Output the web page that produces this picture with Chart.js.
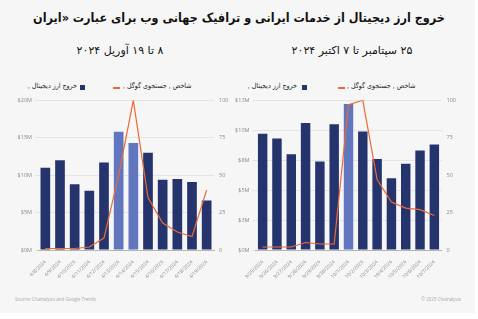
<!DOCTYPE html>
<html>
<head>
<meta charset="utf-8">
<script src="https://cdn.jsdelivr.net/npm/chart.js@4"></script>
<style>
  body { margin: 0; width: 478px; height: 319px; background: #fff; overflow: hidden; font-family: "DejaVu Sans", sans-serif; }
  #frame { position: absolute; left: 0; top: 0; width: 475px; height: 313px; background: #f6f6f6; }
  .t { position: absolute; white-space: nowrap; direction: rtl; color: #111; }
  .lg { font-size: 7px; font-family: "DejaVu Sans Condensed", "DejaVu Sans", sans-serif; top: 82px; color: #222; }
  .box { position: absolute; width: 5px; height: 5px; background: #26346e; }
  .ln { position: absolute; width: 7px; height: 2px; background: #ee6a32; }
  .wrap { position: absolute; }
  .foot { position: absolute; font-family: "Open Sans", sans-serif; font-size: 4.5px; color: #a8a8a8; white-space: nowrap; }
</style>
</head>
<body>
<div id="frame"></div>
<div class="t" style="left:0;width:478px;top:10px;text-align:center;font-size:12.5px;font-weight:bold;font-family:'DejaVu Sans Condensed','DejaVu Sans',sans-serif;">خروج ارز دیجیتال از خدمات ایرانی و ترافیک جهانی وب برای عبارت «ایران</div>
<div class="t" style="left:20px;width:200px;top:44px;text-align:center;font-size:11px;">۸ تا ۱۹ آوریل ۲۰۲۴</div>
<div class="t" style="left:252px;width:200px;top:44px;text-align:center;font-size:11px;">۲۵ سپتامبر تا ۷ اکتبر ۲۰۲۴</div>

<div class="t lg" style="right:401px;">خروج ارز دیجیتال ,</div>
<div class="box" style="left:80px;top:85px;"></div>
<div class="ln" style="left:113px;top:87px;"></div>
<div class="t lg" style="left:123px;direction:ltr;"><span dir="rtl">شاخص , جستجوی گوگل ,</span></div>

<div class="t lg" style="right:181px;">خروج ارز دیجیتال ,</div>
<div class="box" style="left:302px;top:85px;"></div>
<div class="ln" style="left:338px;top:87px;"></div>
<div class="t lg" style="left:347px;direction:ltr;"><span dir="rtl">شاخص , جستجوی گوگل ,</span></div>

<div class="wrap" style="left:0;top:92px;"><canvas id="left" width="240" height="198"></canvas></div>
<div class="wrap" style="left:235px;top:92px;"><canvas id="right" width="243" height="198"></canvas></div>

<div class="foot" style="left:15px;top:296px;">Source: Chainalysis and Google Trends</div>
<div class="foot" style="right:17px;top:296px;">© 2025 Chainalysis</div>

<script>
// April 2024 window
const aprilDates = ["4/8/2024", "4/9/2024", "4/10/2024", "4/11/2024", "4/12/2024", "4/13/2024",
  "4/14/2024", "4/15/2024", "4/16/2024", "4/17/2024", "4/18/2024", "4/19/2024"];
const aprilOutflow = [11.0, 12.0, 8.8, 7.9, 11.7, 15.8, 14.3, 13.0, 9.4, 9.5, 9.1, 6.6]; // $M
const aprilSearch = [1, 1, 1, 2, 8, 50, 100, 35, 18, 12, 9, 40];
const aprilHighlight = ["4/13/2024", "4/14/2024"];

// Sep-Oct 2024 window
const octDates = ["9/25/2024", "9/26/2024", "9/27/2024", "9/28/2024", "9/29/2024", "9/30/2024",
  "10/1/2024", "10/2/2024", "10/3/2024", "10/4/2024", "10/5/2024", "10/6/2024", "10/7/2024"];
const octOutflow = [9.7, 9.3, 8.0, 10.6, 7.4, 10.5, 12.2, 9.9, 7.6, 6.0, 7.2, 8.3, 8.8]; // $M
const octSearch = [2, 2, 2, 5, 4, 4, 97, 100, 47, 32, 28, 27, 23];
const octHighlight = ["10/1/2024"];

const NAVY = "#26346e";
const LIGHT = "#6276bf";
const ORANGE = "#ee6a32";
const GRID = "#e4e4e4";
const TICK = "#8a8a8a";

function makeChart(id, labels, outflow, search, highlight, yMax, yStep, leftW, rightW) {
  const colors = labels.map(d => highlight.includes(d) ? LIGHT : NAVY);
  new Chart(document.getElementById(id), {
    data: {
      labels: labels,
      datasets: [
        {
          type: "line",
          label: "search",
          data: search,
          yAxisID: "y1",
          borderColor: ORANGE,
          borderWidth: 1.2,
          pointRadius: 0,
          tension: 0,
          order: 0,
        },
        {
          type: "bar",
          label: "outflow",
          data: outflow,
          yAxisID: "y",
          backgroundColor: colors,
          barPercentage: 0.66,
          categoryPercentage: 1,
          order: 1,
        },
      ],
    },
    options: {
      responsive: false,
      animation: false,
      layout: { padding: { top: 5, left: 0, right: 0, bottom: 0 } },
      plugins: { legend: { display: false }, tooltip: { enabled: false } },
      scales: {
        x: {
          grid: { display: false },
          border: { color: "#b5b5b5" },
          ticks: { font: { size: 5, family: "Open Sans" }, color: TICK, minRotation: 45, maxRotation: 45, autoSkip: false, padding: 1 },
          afterFit: s => { s.height = 40; },
        },
        y: {
          position: "left",
          min: 0,
          max: yMax,
          ticks: {
            stepSize: yStep,
            font: { size: 5.5, family: "Open Sans" },
            color: TICK,
            padding: 3,
            callback: v => "$" + Math.round(v) + "M",
          },
          grid: { color: GRID, tickLength: 3 },
          border: { display: false },
          afterFit: s => { s.width = leftW; },
        },
        y1: {
          position: "right",
          min: 0,
          max: 100,
          ticks: { stepSize: 25, font: { size: 5.5, family: "Open Sans" }, color: TICK, padding: 5 },
          grid: { display: false, drawTicks: false },
          border: { display: false },
          afterFit: s => { s.width = rightW; },
        },
      },
    },
  });
}

makeChart("left", aprilDates, aprilOutflow, aprilSearch, aprilHighlight, 20, 5, 38, 26);
makeChart("right", octDates, octOutflow, octSearch, octHighlight, 12.5, 2.5, 20.5, 36.5);
</script>
</body>
</html>
